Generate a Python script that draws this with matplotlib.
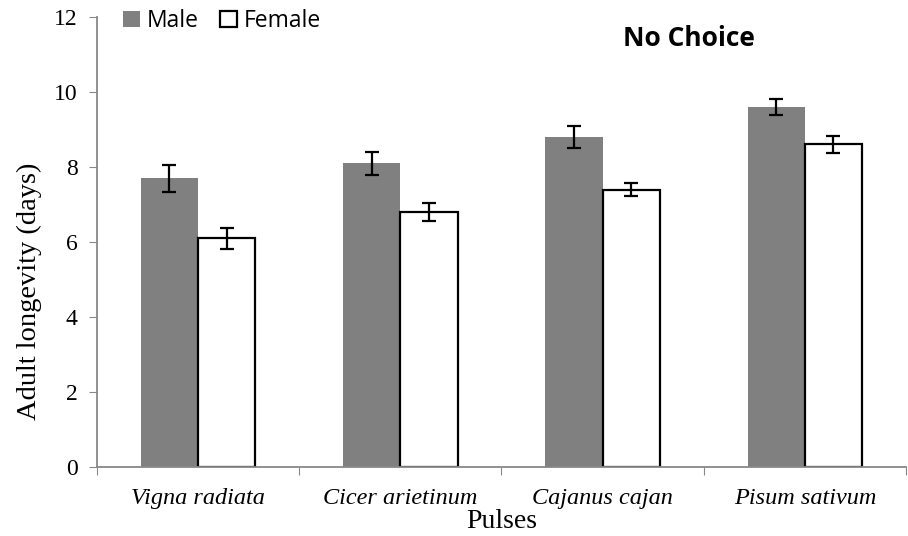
import numpy as np
import matplotlib.pyplot as plt

pulses = ['Vigna radiata', 'Cicer arietinum', 'Cajanus cajan', 'Pisum sativum']
male = [7.7, 8.1, 8.8, 9.6]
female = [6.1, 6.8, 7.4, 8.6]
male_err = [0.36, 0.31, 0.29, 0.22]
female_err = [0.28, 0.25, 0.17, 0.22]

serif = 'Liberation Serif'

fig = plt.figure(figsize=(9.08, 5.36), dpi=100)
ax = fig.add_axes([0.1068, 0.1287, 0.891, 0.8396])

x = np.arange(len(pulses))
w = 0.283
ax.bar(x - w/2, male, w, color='#808080', label='Male', zorder=2)
ax.bar(x + w/2, female, w, color='white', edgecolor='black', linewidth=1.6,
       label='Female', zorder=2)
ax.errorbar(x - w/2, male, yerr=male_err, fmt='none', ecolor='black',
            elinewidth=1.6, capsize=5, capthick=1.6, zorder=3)
ax.errorbar(x + w/2, female, yerr=female_err, fmt='none', ecolor='black',
            elinewidth=1.6, capsize=5, capthick=1.6, zorder=3)

ax.set_xlim(-0.5, len(pulses) - 0.5)
ax.set_ylim(0, 12)
ax.set_yticks(range(0, 13, 2))
# category boundaries get the tick marks, names sit between them
ax.set_xticks(np.arange(-0.5, len(pulses), 1.0))
ax.set_xticklabels([])
ax.set_xticks(x, minor=True)
ax.set_xticklabels(pulses, minor=True, fontstyle='italic', family=serif, fontsize=17.5)
ax.tick_params(axis='x', which='minor', length=0, pad=15)
ax.tick_params(axis='x', which='major', length=6, color='#888888', direction='out')
ax.tick_params(axis='y', length=6, color='#888888', labelsize=17, pad=8)
for lab in ax.get_yticklabels():
    lab.set_family(serif)

for s in ['top', 'right']:
    ax.spines[s].set_visible(False)
for s in ['left', 'bottom']:
    ax.spines[s].set_color('#888888')
    ax.spines[s].set_linewidth(1.3)
    ax.spines[s].set_zorder(4)

ax.set_ylabel('Adult longevity (days)', family=serif, fontsize=20.5, va='center')
ax.yaxis.set_label_coords(-0.083, 0.39)
ax.set_xlabel('Pulses', family=serif, fontsize=20, va='center')
ax.xaxis.set_label_coords(0.5, -0.122)

ax.legend(loc='center left', bbox_to_anchor=(0.032, 0.991), ncol=2, frameon=False,
          borderpad=0, borderaxespad=0,
          prop={'family': 'Open Sans', 'size': 16.5}, handlelength=0.75,
          handleheight=0.75, handletextpad=0.3, columnspacing=0.9)
ax.text(0.732, 0.9356, 'No Choice', transform=ax.transAxes, ha='center',
        va='baseline', fontsize=19, fontweight='bold', family='Open Sans')

fig.savefig('out.png', dpi=100)
